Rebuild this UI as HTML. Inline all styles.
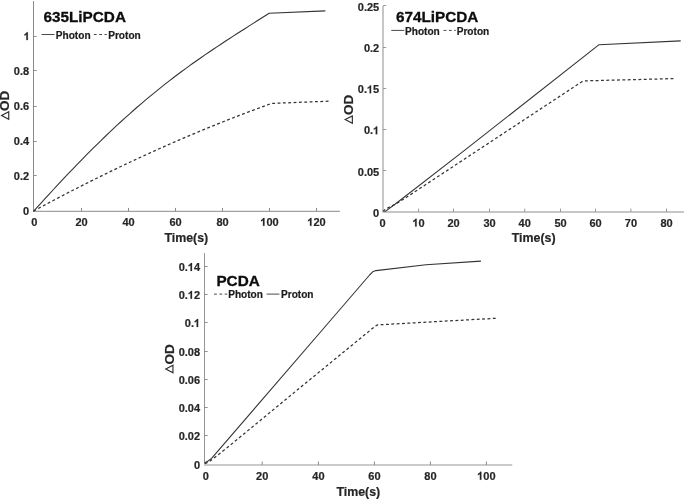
<!DOCTYPE html>
<html><head><meta charset="utf-8"><title>chart</title>
<style>
html,body{margin:0;padding:0;background:#fff;}
body{width:685px;height:499px;overflow:hidden;}
svg{display:block;will-change:transform;font-family:"Liberation Sans",sans-serif;font-weight:bold;fill:#262626;}
.tk{font-size:11px;stroke:#262626;stroke-width:0.2px;}
.ti{font-size:15.3px;fill:#0d0d0d;stroke:#0d0d0d;stroke-width:0.3px;}
.lg{font-size:10.1px;fill:#1c1c1c;stroke:#1c1c1c;stroke-width:0.2px;}
.al{font-size:12.4px;stroke:#262626;stroke-width:0.2px;}
</style></head><body>
<svg width="685" height="499" viewBox="0 0 685 499">
<rect width="685" height="499" fill="#fff"/>
<path d="M33.5 1V211.3" fill="none" stroke="#8a8a8a" stroke-width="1"/>
<path d="M33.0 211.3H339.9" fill="none" stroke="#8a8a8a" stroke-width="1"/>
<path d="M81.5 211.3v-3.4M128.5 211.3v-3.4M175.5 211.3v-3.4M222.5 211.3v-3.4M269.5 211.3v-3.4M316.5 211.3v-3.4" fill="none" stroke="#8a8a8a" stroke-width="1"/>
<path d="M33.5 175.5h3.2M33.5 141.5h3.2M33.5 106.5h3.2M33.5 70.5h3.2M33.5 36.5h3.2" fill="none" stroke="#8f8f8f" stroke-width="1"/>
<text x="34.30" y="225.85" text-anchor="middle" class="tk">0</text>
<text x="81.50" y="225.85" text-anchor="middle" class="tk">20</text>
<text x="128.50" y="225.85" text-anchor="middle" class="tk">40</text>
<text x="175.50" y="225.85" text-anchor="middle" class="tk">60</text>
<text x="222.50" y="225.85" text-anchor="middle" class="tk">80</text>
<path class="tk" transform="translate(259.11,225.85) scale(0.005371,-0.005371)" d="M1000 0H719V1059Q565 915 356 846V1101Q466 1137 595 1237.5T772 1472H1000Z" vector-effect="non-scaling-stroke"/>
<text x="266.44" y="225.85" class="tk">00</text>
<path class="tk" transform="translate(306.11,225.85) scale(0.005371,-0.005371)" d="M1000 0H719V1059Q565 915 356 846V1101Q466 1137 595 1237.5T772 1472H1000Z" vector-effect="non-scaling-stroke"/>
<text x="313.44" y="225.85" class="tk">20</text>
<text x="29.10" y="215.30" text-anchor="end" class="tk">0</text>
<text x="29.10" y="179.90" text-anchor="end" class="tk">0.2</text>
<text x="29.10" y="145.20" text-anchor="end" class="tk">0.4</text>
<text x="29.10" y="110.20" text-anchor="end" class="tk">0.6</text>
<text x="29.10" y="74.90" text-anchor="end" class="tk">0.8</text>
<path class="tk" transform="translate(22.47,40.10) scale(0.005371,-0.005371)" d="M1000 0H719V1059Q565 915 356 846V1101Q466 1137 595 1237.5T772 1472H1000Z" vector-effect="non-scaling-stroke"/>
<path d="M33.50 211.30 L37.49 206.91 L41.49 202.53 L45.48 198.16 L49.48 193.82 L53.47 189.50 L57.47 185.20 L61.46 180.93 L65.46 176.69 L69.45 172.48 L73.45 168.30 L77.44 164.16 L81.44 160.05 L85.43 155.98 L89.43 151.96 L93.42 147.97 L97.42 144.02 L101.41 140.11 L105.41 136.25 L109.40 132.44 L113.40 128.67 L117.39 124.94 L121.39 121.27 L125.38 117.64 L129.38 114.05 L133.37 110.52 L137.37 107.03 L141.36 103.59 L145.36 100.20 L149.35 96.86 L153.35 93.56 L157.34 90.31 L161.34 87.11 L165.33 83.95 L169.33 80.84 L173.32 77.77 L177.32 74.75 L181.31 71.77 L185.31 68.82 L189.30 65.92 L193.30 63.06 L197.29 60.23 L201.29 57.44 L205.28 54.68 L209.28 51.95 L213.27 49.25 L217.27 46.58 L221.26 43.93 L225.26 41.31 L229.25 38.71 L233.25 36.12 L237.24 33.55 L241.24 31.00 L245.23 28.45 L249.23 25.91 L253.22 23.37 L257.22 20.83 L261.21 18.30 L265.21 15.75 L269.20 13.20 L325.30 10.90" fill="none" stroke="#343434" stroke-width="1.08" stroke-linejoin="round"/>
<path d="M33.50 211.09 L37.54 208.90 L41.57 206.72 L45.61 204.56 L49.64 202.41 L53.68 200.27 L57.71 198.14 L61.75 196.02 L65.78 193.92 L69.82 191.83 L73.86 189.76 L77.89 187.69 L81.93 185.64 L85.96 183.60 L90.00 181.58 L94.03 179.56 L98.07 177.56 L102.11 175.57 L106.14 173.60 L110.18 171.63 L114.21 169.68 L118.25 167.74 L122.28 165.82 L126.32 163.90 L130.35 162.00 L134.39 160.12 L138.43 158.24 L142.46 156.38 L146.50 154.53 L150.53 152.69 L154.57 150.86 L158.60 149.05 L162.64 147.25 L166.67 145.46 L170.71 143.69 L174.75 141.93 L178.78 140.18 L182.82 138.44 L186.85 136.72 L190.89 135.00 L194.92 133.30 L198.96 131.62 L202.99 129.94 L207.03 128.28 L211.07 126.63 L215.10 125.00 L219.14 123.37 L223.17 121.76 L227.21 120.16 L231.24 118.57 L235.28 117.00 L239.32 115.44 L243.35 113.89 L247.39 112.36 L251.42 110.83 L255.46 109.32 L259.49 107.82 L263.53 106.34 L267.56 104.86 L271.60 103.40 L329.10 101.20" fill="none" stroke="#343434" stroke-width="1.25" stroke-linejoin="round" stroke-dasharray="2.9 2.45"/>
<text x="43.5" y="21.9" class="ti">635LiPCDA</text>
<path d="M41.6 34.5H54.4" stroke="#4a4a4a" stroke-width="1"/>
<text x="55.8" y="39.0" class="lg">Photon</text>
<path d="M93.8 34.5H106.8" stroke="#4a4a4a" stroke-width="1" stroke-dasharray="2.9 2.45"/>
<text x="108.2" y="39.0" class="lg">Proton</text>
<g transform="translate(9.3,120.1) rotate(-90)"><path d="M0.9 -0.55H8.3L4.6 -7.7Z" fill="none" stroke="#2e2e2e" stroke-width="1.15" stroke-linejoin="miter" stroke-miterlimit="10"/><text transform="translate(9.1,0) scale(1.09,1)" x="0" y="0" class="al">OD</text></g>
<text x="186.3" y="242.1" text-anchor="middle" class="al">Time(s)</text>
<path d="M383.0 5.9V212.0" fill="none" stroke="#c6c6c6" stroke-width="2"/>
<path d="M382.5 212.0H683.9" fill="none" stroke="#c6c6c6" stroke-width="2"/>
<path d="M418.6 212.0v-3.4M453.5 212.0v-3.4M489.5 212.0v-3.4M524.7 212.0v-3.4M560.5 212.0v-3.4M595.5 212.0v-3.4M630.9 212.0v-3.4M666.5 212.0v-3.4" fill="none" stroke="#9a9a9a" stroke-width="1"/>
<path d="M383.0 170.5h3.2M383.0 129.5h3.2M383.0 88.5h3.2M383.0 47.5h3.2M383.0 5.5h3.2" fill="none" stroke="#9a9a9a" stroke-width="1"/>
<text x="382.60" y="226.60" text-anchor="middle" class="tk">0</text>
<path class="tk" transform="translate(411.27,226.60) scale(0.005371,-0.005371)" d="M1000 0H719V1059Q565 915 356 846V1101Q466 1137 595 1237.5T772 1472H1000Z" vector-effect="non-scaling-stroke"/>
<text x="418.60" y="226.60" class="tk">0</text>
<text x="453.50" y="226.60" text-anchor="middle" class="tk">20</text>
<text x="489.50" y="226.60" text-anchor="middle" class="tk">30</text>
<text x="524.70" y="226.60" text-anchor="middle" class="tk">40</text>
<text x="560.50" y="226.60" text-anchor="middle" class="tk">50</text>
<text x="595.50" y="226.60" text-anchor="middle" class="tk">60</text>
<text x="630.90" y="226.60" text-anchor="middle" class="tk">70</text>
<text x="666.50" y="226.60" text-anchor="middle" class="tk">80</text>
<text x="379.20" y="216.90" text-anchor="end" class="tk">0</text>
<text x="379.20" y="175.70" text-anchor="end" class="tk">0.05</text>
<text x="363.91" y="134.30" class="tk">0.</text>
<path class="tk" transform="translate(371.87,134.30) scale(0.005371,-0.005371)" d="M1000 0H719V1059Q565 915 356 846V1101Q466 1137 595 1237.5T772 1472H1000Z" vector-effect="non-scaling-stroke"/>
<text x="357.79" y="93.30" class="tk">0.</text>
<path class="tk" transform="translate(365.75,93.30) scale(0.005371,-0.005371)" d="M1000 0H719V1059Q565 915 356 846V1101Q466 1137 595 1237.5T772 1472H1000Z" vector-effect="non-scaling-stroke"/>
<text x="373.08" y="93.30" class="tk">5</text>
<text x="379.20" y="52.20" text-anchor="end" class="tk">0.2</text>
<text x="379.20" y="10.80" text-anchor="end" class="tk">0.25</text>
<path d="M384.60 211.90 L395.00 204.30 L462.90 151.60 L599.10 44.70 L680.70 40.90" fill="none" stroke="#343434" stroke-width="1.08" stroke-linejoin="round"/>
<path d="M383.00 211.40 L386.00 208.80 L392.00 205.90 L400.00 201.50 L445.00 171.90 L581.60 81.90 L583.80 80.90 L673.70 78.60" fill="none" stroke="#343434" stroke-width="1.25" stroke-linejoin="round" stroke-dasharray="2.9 2.45"/>
<text x="395.9" y="21.6" class="ti">674LiPCDA</text>
<path d="M391.3 30.4H404.3" stroke="#4a4a4a" stroke-width="1"/>
<text x="405.0" y="34.9" class="lg">Photon</text>
<path d="M443.5 30.4H455.8" stroke="#4a4a4a" stroke-width="1" stroke-dasharray="2.9 2.45"/>
<text x="456.7" y="34.9" class="lg">Proton</text>
<g transform="translate(352.9,124.2) rotate(-90)"><path d="M0.9 -0.55H8.3L4.6 -7.7Z" fill="none" stroke="#2e2e2e" stroke-width="1.15" stroke-linejoin="miter" stroke-miterlimit="10"/><text transform="translate(9.1,0) scale(1.09,1)" x="0" y="0" class="al">OD</text></g>
<text x="533.7" y="242.1" text-anchor="middle" class="al">Time(s)</text>
<path d="M204.5 253.1V465.0" fill="none" stroke="#959595" stroke-width="1"/>
<path d="M204.0 465.0H512.3" fill="none" stroke="#cbcbcb" stroke-width="2"/>
<path d="M262.2 465.0v-3.4M318.4 465.0v-3.4M374.4 465.0v-3.4M430.4 465.0v-3.4M486.4 465.0v-3.4" fill="none" stroke="#8a8a8a" stroke-width="1"/>
<path d="M204.5 435.5h3.2M204.5 407.5h3.2M204.5 379.5h3.2M204.5 351.5h3.2M204.5 322.5h3.2M204.5 294.5h3.2M204.5 266.5h3.2" fill="none" stroke="#8f8f8f" stroke-width="1"/>
<text x="205.70" y="479.70" text-anchor="middle" class="tk">0</text>
<text x="262.20" y="479.70" text-anchor="middle" class="tk">20</text>
<text x="318.40" y="479.70" text-anchor="middle" class="tk">40</text>
<text x="374.40" y="479.70" text-anchor="middle" class="tk">60</text>
<text x="430.40" y="479.70" text-anchor="middle" class="tk">80</text>
<path class="tk" transform="translate(476.01,479.70) scale(0.005371,-0.005371)" d="M1000 0H719V1059Q565 915 356 846V1101Q466 1137 595 1237.5T772 1472H1000Z" vector-effect="non-scaling-stroke"/>
<text x="483.34" y="479.70" class="tk">00</text>
<text x="200.10" y="468.90" text-anchor="end" class="tk">0</text>
<text x="200.10" y="440.10" text-anchor="end" class="tk">0.02</text>
<text x="200.10" y="412.00" text-anchor="end" class="tk">0.04</text>
<text x="200.10" y="383.90" text-anchor="end" class="tk">0.06</text>
<text x="200.10" y="355.90" text-anchor="end" class="tk">0.08</text>
<text x="184.81" y="326.90" class="tk">0.</text>
<path class="tk" transform="translate(192.77,326.90) scale(0.005371,-0.005371)" d="M1000 0H719V1059Q565 915 356 846V1101Q466 1137 595 1237.5T772 1472H1000Z" vector-effect="non-scaling-stroke"/>
<text x="178.69" y="298.80" class="tk">0.</text>
<path class="tk" transform="translate(186.65,298.80) scale(0.005371,-0.005371)" d="M1000 0H719V1059Q565 915 356 846V1101Q466 1137 595 1237.5T772 1472H1000Z" vector-effect="non-scaling-stroke"/>
<text x="193.98" y="298.80" class="tk">2</text>
<text x="178.69" y="270.90" class="tk">0.</text>
<path class="tk" transform="translate(186.65,270.90) scale(0.005371,-0.005371)" d="M1000 0H719V1059Q565 915 356 846V1101Q466 1137 595 1237.5T772 1472H1000Z" vector-effect="non-scaling-stroke"/>
<text x="193.98" y="270.90" class="tk">4</text>
<path d="M204.60 462.80 L207.20 461.60 L209.00 460.30 L212.00 457.90 L330.85 320.00 L369.60 275.00 L372.70 271.80 L376.00 270.60 L426.00 264.80 L480.90 261.10" fill="none" stroke="#343434" stroke-width="1.08" stroke-linejoin="round"/>
<path d="M205.00 463.70 L209.70 461.40 L227.00 447.80 L307.00 382.00 L375.20 326.20 L377.60 324.90 L495.70 318.30" fill="none" stroke="#343434" stroke-width="1.25" stroke-linejoin="round" stroke-dasharray="2.9 2.45"/>
<text x="216.4" y="285.9" class="ti">PCDA</text>
<path d="M214 294.1H227.3" stroke="#4a4a4a" stroke-width="1" stroke-dasharray="2.9 2.45"/>
<text x="228.2" y="298.4" class="lg">Photon</text>
<path d="M266.6 294.1H279.4" stroke="#4a4a4a" stroke-width="1"/>
<text x="281.0" y="298.4" class="lg">Proton</text>
<g transform="translate(173.5,373.6) rotate(-90)"><path d="M0.9 -0.55H8.3L4.6 -7.7Z" fill="none" stroke="#2e2e2e" stroke-width="1.15" stroke-linejoin="miter" stroke-miterlimit="10"/><text transform="translate(9.1,0) scale(1.09,1)" x="0" y="0" class="al">OD</text></g>
<text x="358.3" y="496.2" text-anchor="middle" class="al">Time(s)</text>
</svg></body></html>
